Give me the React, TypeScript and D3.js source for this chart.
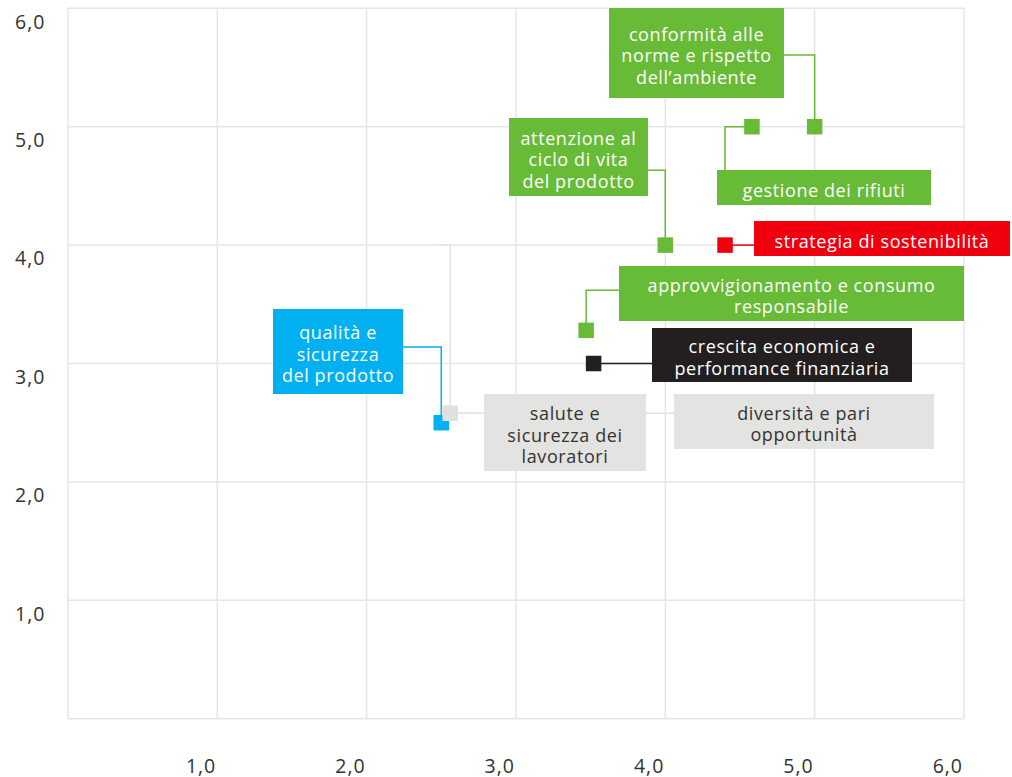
import React from "react";
import * as d3 from "d3";

// ---- data ----
const topics = [
  "conformità alle norme e rispetto dell’ambiente",
  "gestione dei rifiuti",
  "attenzione al ciclo di vita del prodotto",
  "strategia di sostenibilità",
  "approvvigionamento e consumo responsabile",
  "crescita economica e performance finanziaria",
  "qualità e sicurezza del prodotto",
  "salute e sicurezza dei lavoratori",
  "diversità e pari opportunità",
];
const xValues = [5.0, 4.58, 4.0, 4.4, 3.47, 3.52, 2.5, 2.56, 2.56];
const yValues = [5.0, 5.0, 4.0, 4.0, 3.28, 3.0, 2.5, 2.58, 2.58];
const groups = [
  "ambiente", "ambiente", "ambiente", "strategia", "ambiente",
  "economia", "prodotto", "sociale", "sociale",
];
const labelLines = [
  ["conformità alle", "norme e rispetto", "dell’ambiente"],
  ["gestione dei rifiuti"],
  ["attenzione al", "ciclo di vita", "del prodotto"],
  ["strategia di sostenibilità"],
  ["approvvigionamento e consumo", "responsabile"],
  ["crescita economica e", "performance finanziaria"],
  ["qualità e", "sicurezza", "del prodotto"],
  ["salute e", "sicurezza dei", "lavoratori"],
  ["diversità e pari", "opportunità"],
];
const tickValues = [1, 2, 3, 4, 5, 6];
const tickLabels = ["1,0", "2,0", "3,0", "4,0", "5,0", "6,0"];

// ---- styles ----
const groupColor: Record<string, string> = {
  ambiente: "#67bb36",
  strategia: "#f0000f",
  economia: "#231f20",
  prodotto: "#00b0f0",
  sociale: "#e3e3e1",
};
const groupText: Record<string, string> = {
  ambiente: "#ffffff",
  strategia: "#ffffff",
  economia: "#ffffff",
  prodotto: "#ffffff",
  sociale: "#333333",
};
const lineColor: Record<string, string> = {
  ambiente: "#67bb36",
  strategia: "#f0000f",
  economia: "#231f20",
  prodotto: "#00b0f0",
  sociale: "#e3e3e1",
};

// label box layout (pixels): x, y, w, h
const boxes: [number, number, number, number][] = [
  [609, 8, 175, 90],
  [717, 170, 214, 35],
  [509, 118, 139, 78],
  [754, 221, 256, 35],
  [619, 266, 345, 55],
  [652, 328, 260, 54],
  [273, 309, 130, 85],
  [484, 394, 162, 77],
  [674, 394, 260, 55],
];

const W = 1012;
const H = 777;
const M = { left: 67.9, right: 964, top: 8.3, bottom: 718.7 };

export default function App() {
  const x = d3.scaleLinear().domain([0, 6]).range([M.left, M.right]);
  const y = d3.scaleLinear().domain([0, 6]).range([M.bottom, M.top]);
  const line = d3.line();

  const connectors: ([number, number][] | null)[] = topics.map((_, i) => {
    const px = x(xValues[i]);
    const py = y(yValues[i]);
    const [bx, by, bw] = boxes[i];
    switch (i) {
      case 0:
        return [[bx + bw, 55], [px, 55], [px, py]];
      case 1:
        return [[px, py], [725, py], [725, by]];
      case 2:
        return [[bx + bw, 170.3], [px, 170.3], [px, py]];
      case 3:
        return [[px, py], [bx, py]];
      case 4:
        return [[px, py], [px, 290.3], [bx, 290.3]];
      case 5:
        return [[px, py], [bx, py]];
      case 6:
        return [[bx + bw, 347], [px, 347], [px, py]];
      case 7:
        return [[px, py], [bx, py]];
      case 8:
        return [[437, y(4)], [px, y(4)], [px, py], [bx, py]];
      default:
        return null;
    }
  });

  const fontSize = 18;
  const lh = 21.5;
  const sq = 15.5;

  return (
    <svg
      width={W}
      height={H}
      style={{ position: "absolute", left: 0, top: 0, background: "#fff" }}
      fontFamily="'Open Sans', Lato, sans-serif"
    >
      {/* grid */}
      <g stroke="#e6e6e6" strokeWidth={1.5} fill="none">
        {[0, ...tickValues].map((t) => (
          <line key={"gx" + t} x1={x(t)} x2={x(t)} y1={y(0)} y2={y(6)} />
        ))}
        {[0, ...tickValues].map((t) => (
          <line key={"gy" + t} x1={x(0)} x2={x(6)} y1={y(t)} y2={y(t)} />
        ))}
      </g>
      {/* axis labels */}
      <g fontSize={19.5} fill="#333" letterSpacing={1}>
        {tickValues.map((t, i) => (
          <text key={"ly" + t} x={15} y={y(t) + 20.3}>
            {tickLabels[i]}
          </text>
        ))}
        {tickValues.map((t, i) => (
          <text key={"lx" + t} x={x(t) - 1} y={772.5} textAnchor="end">
            {tickLabels[i]}
          </text>
        ))}
      </g>
      {/* connectors */}
      <g fill="none" strokeWidth={1.5}>
        {connectors.map((c, i) =>
          c ? (
            <path key={"c" + i} d={line(c) || ""} stroke={lineColor[groups[i]]} />
          ) : null
        )}
      </g>
      {/* label boxes */}
      {boxes.map(([bx, by, bw, bh], i) => {
        const lines = labelLines[i];
        const cy = by + bh / 2;
        const first = cy - ((lines.length - 1) * lh) / 2;
        return (
          <g key={"b" + i}>
            <rect x={bx} y={by} width={bw} height={bh} fill={groupColor[groups[i]]} />
            {lines.map((l, j) => (
              <text
                key={j}
                x={bx + bw / 2}
                y={first + j * lh + 9}
                textAnchor="middle"
                fontSize={fontSize}
                letterSpacing={0.6}
                fill={groupText[groups[i]]}
              >
                {l}
              </text>
            ))}
          </g>
        );
      })}
      {/* points */}
      {topics.map((_, i) =>
        i === 8 ? null : (
          <rect
            key={"p" + i}
            x={x(xValues[i]) - sq / 2}
            y={y(yValues[i]) - sq / 2}
            width={sq}
            height={sq}
            fill={groups[i] === "sociale" ? "#e0e0e0" : groupColor[groups[i]]}
          />
        )
      )}
    </svg>
  );
}
